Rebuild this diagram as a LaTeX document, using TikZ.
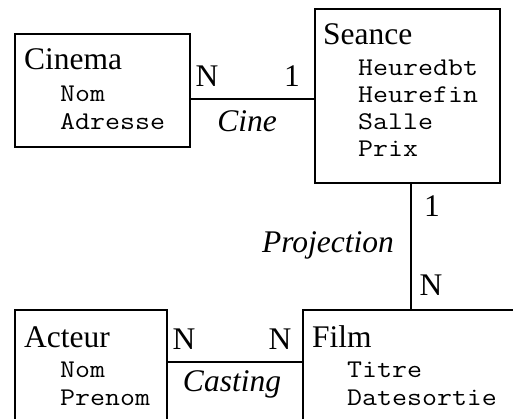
\documentclass[tikz,border=0pt]{standalone}
\usepackage{fontspec}
\setmainfont{Liberation Serif}
\newfontfamily\attfont{Latin Modern Mono}[FakeStretch=1.14]
\tikzset{
  ent/.style={draw, line width=1.6pt, inner sep=0pt, anchor=north west},
  ttl/.style={anchor=base west, inner sep=0pt, font=\fontsize{31.5}{36}\selectfont},
  att/.style={anchor=base west, inner sep=0pt, font=\attfont\fontsize{25.5}{28}\selectfont},
  card/.style={anchor=base, inner sep=0pt, font=\fontsize{31.5}{36}\selectfont},
  rel/.style={anchor=base, inner sep=0pt, font=\fontsize{31.5}{36}\selectfont\itshape},
  lnk/.style={line width=1.6pt},
}
\begin{document}
\begin{tikzpicture}[x=1pt,y=-1pt]
\useasboundingbox (0,0) rectangle (513,419);
\clip (0,0) rectangle (513,419);
% entity boxes
\node[ent, minimum width=175pt, minimum height=113pt] (cinema) at (14,33) {};
\node[ent, minimum width=185pt, minimum height=174pt] (seance) at (314,8) {};
\node[ent, minimum width=152pt, minimum height=200pt] (acteur) at (14,309) {};
\node[ent, minimum width=300pt, minimum height=200pt] (film) at (302,309) {};
% entity texts
\node[ttl] (tcinema) at (24,70) {Cinema};
\node[att] (acnom) at (60,102) {Nom};
\node[att] (acadr) at (60,130) {Adresse};
\node[ttl] (tseance) at (323,45) {Seance};
\node[att] (as1) at (358,76) {Heuredbt};
\node[att] (as2) at (358,103) {Heurefin};
\node[att] (as3) at (358,130) {Salle};
\node[att] (as4) at (358,157) {Prix};
\node[ttl] (tacteur) at (24,347) {Acteur};
\node[att] (aanom) at (60,377) {Nom};
\node[att] (aapre) at (60,405) {Prenom};
\node[ttl] (tfilm) at (312,347) {Film};
\node[att] (af1) at (347,377) {Titre};
\node[att] (af2) at (347,405) {Datesortie};
% connectors
\coordinate (c1) at (0,99);
\draw[lnk] (cinema.east |- c1) -- (seance.west |- c1);
\coordinate (p1) at (411,0);
\draw[lnk] (seance.south -| p1) -- (film.north -| p1);
\coordinate (k1) at (0,362);
\draw[lnk] (acteur.east |- k1) -- (film.west |- k1);
% labels
\node[card] (cn1) at (207,87) {N};
\node[card] (cn2) at (292,87) {1};
\node[rel] (rcine) at (247,132) {Cine};
\node[card] (pn1) at (432,217) {1};
\node[card] (pn2) at (431,295) {N};
\node[rel] (rproj) at (328,252) {Projection};
\node[card] (kn1) at (184,349) {N};
\node[card] (kn2) at (280,349) {N};
\node[rel] (rcast) at (232,391) {Casting};
\end{tikzpicture}
\end{document}
